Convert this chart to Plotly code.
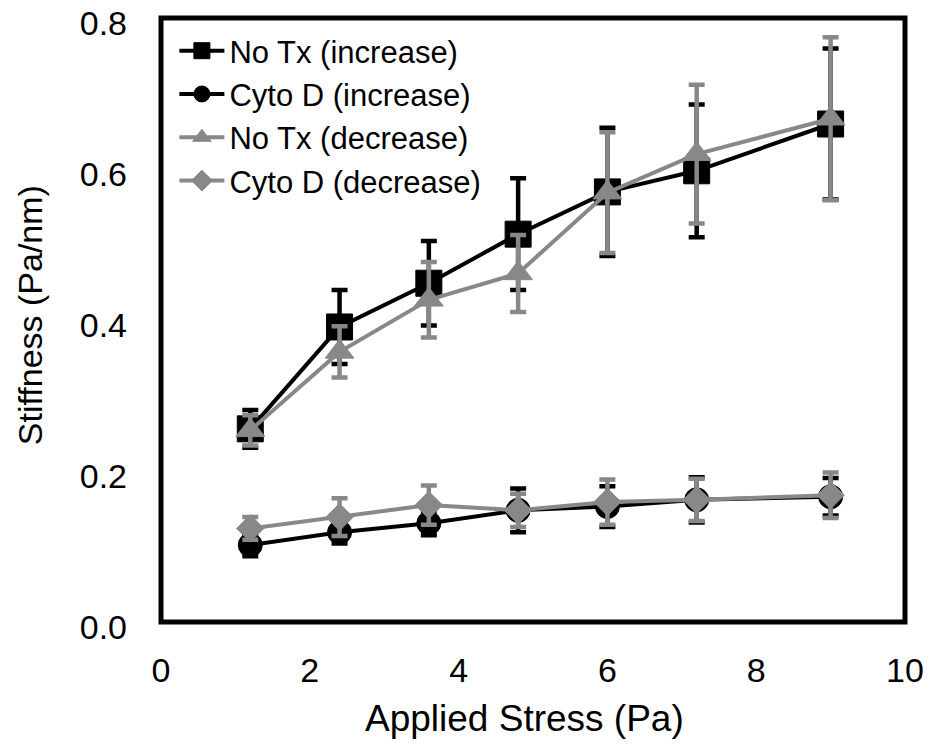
import plotly.graph_objects as go

stress = [1.2, 2.4, 3.6, 4.8, 6.0, 7.2, 9.0]

notx_inc = [0.256, 0.391, 0.449, 0.514, 0.570, 0.598, 0.660]
notx_inc_err = [0.025, 0.049, 0.056, 0.074, 0.085, 0.088, 0.100]

cyto_inc = [0.102, 0.119, 0.131, 0.148, 0.153, 0.162, 0.166]
cyto_inc_err = [0.015, 0.015, 0.016, 0.029, 0.027, 0.030, 0.025]

notx_dec = [0.254, 0.358, 0.427, 0.462, 0.569, 0.620, 0.667]
notx_dec_err = [0.020, 0.034, 0.050, 0.051, 0.080, 0.092, 0.108]

cyto_dec = [0.124, 0.139, 0.155, 0.148, 0.159, 0.162, 0.168]
cyto_dec_err = [0.015, 0.025, 0.026, 0.022, 0.030, 0.028, 0.030]

x_ticks = [0, 2, 4, 6, 8, 10]
y_ticks = [0.0, 0.2, 0.4, 0.6, 0.8]
y_ticklabels = ["0.0", "0.2", "0.4", "0.6", "0.8"]

x_title = "Applied Stress (Pa)"
y_title = "Stiffness (Pa/nm)"

BLACK = "#000000"
GRAY = "#888888"
FONT = "Liberation Sans, Arial, sans-serif"

series = [
    ("No Tx (increase)", notx_inc, notx_inc_err, BLACK, "square", 26),
    ("Cyto D (increase)", cyto_inc, cyto_inc_err, BLACK, "circle", 24),
    ("No Tx (decrease)", notx_dec, notx_dec_err, GRAY, "triangle-up", 25),
    ("Cyto D (decrease)", cyto_dec, cyto_dec_err, GRAY, "diamond", 21),
]

fig = go.Figure()
for name, vals, errs, col, sym, sz in series:
    fig.add_trace(go.Scatter(
        x=stress, y=vals, name=name, mode="lines+markers",
        line=dict(color=col, width=4),
        marker=dict(symbol=sym, size=sz, color=col, line=dict(color=col, width=1)),
        error_y=dict(type="data", array=errs, visible=True, color=col,
                     thickness=4.5, width=8),
    ))

fig.add_shape(type="rect", xref="paper", yref="paper", x0=0, x1=1, y0=0, y1=1,
              line=dict(color=BLACK, width=5), layer="above")

fig.add_annotation(text=x_title, xref="paper", yref="paper", x=0.488, y=-0.159,
                   xanchor="center", yanchor="middle", showarrow=False,
                   font=dict(size=37, family=FONT, color=BLACK))
fig.add_annotation(text=y_title, xref="paper", yref="paper", x=-0.176, y=0.508,
                   xanchor="center", yanchor="middle", showarrow=False, textangle=-90,
                   font=dict(size=34, family=FONT, color=BLACK))

fig.update_layout(
    width=929, height=746,
    margin=dict(l=161, r=24, t=18, b=124, autoexpand=False),
    paper_bgcolor="white", plot_bgcolor="white",
    font=dict(family=FONT, size=33, color=BLACK),
    showlegend=True,
    legend=dict(x=0.018, y=0.99, xanchor="left", yanchor="top",
                bgcolor="rgba(0,0,0,0)", font=dict(size=31, family=FONT),
                itemwidth=45, tracegroupgap=0),
    xaxis=dict(range=[0, 10], tickmode="array", tickvals=x_ticks,
               showgrid=False, zeroline=False, automargin=False,
               showline=False, ticks="", ticklabelstandoff=25,
               ticklabeloverflow="allow",
               tickfont=dict(size=34, family=FONT)),
    yaxis=dict(range=[0, 0.8005], tickmode="array", tickvals=y_ticks,
               ticktext=y_ticklabels, showgrid=False, automargin=False,
               zeroline=False, showline=False, ticks="", ticklabelstandoff=33,
               ticklabelshift=5, ticklabeloverflow="allow",
               tickfont=dict(size=34, family=FONT)),
)

fig.write_html("out.html")
